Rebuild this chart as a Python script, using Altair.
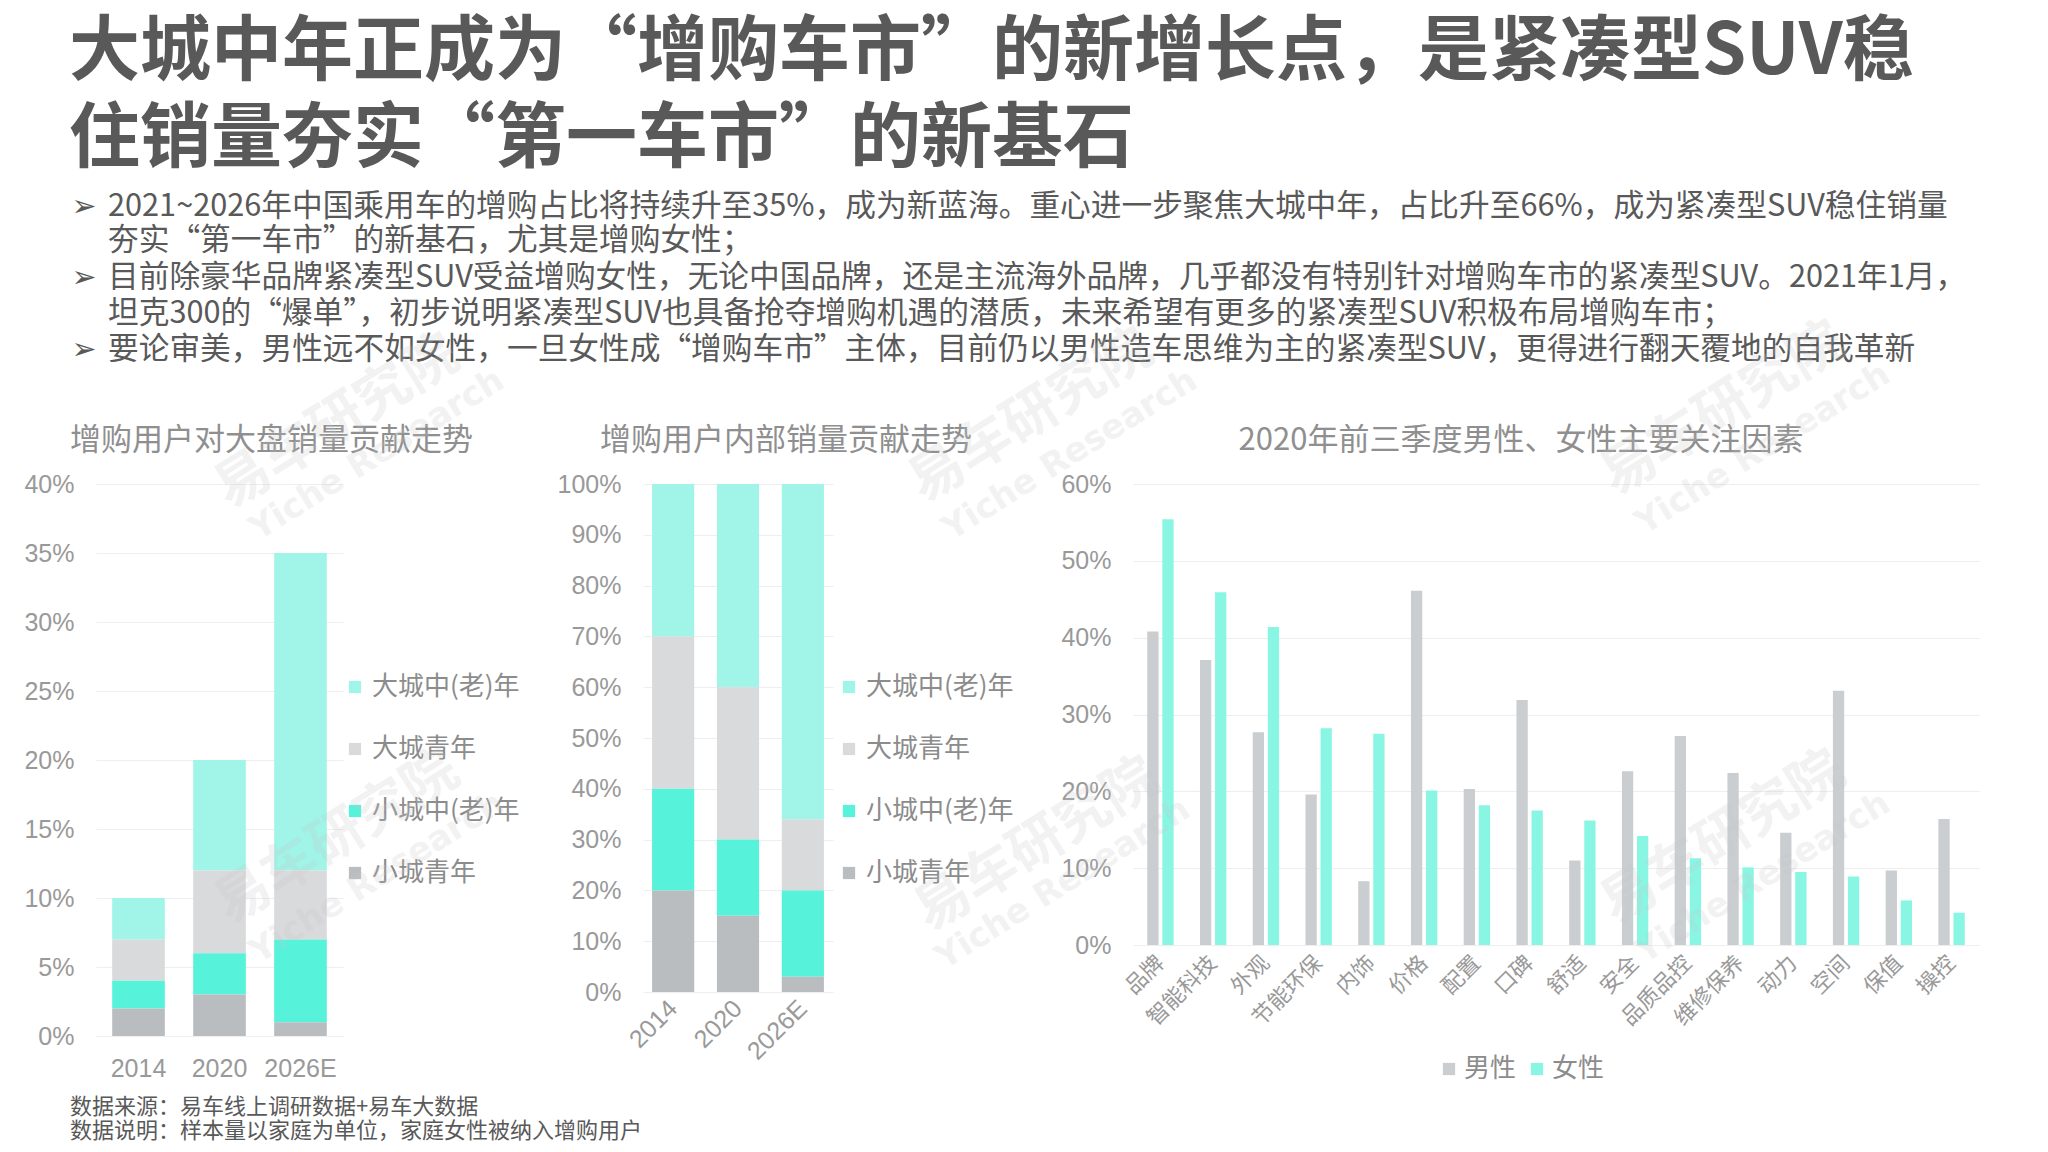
import altair as alt
import pandas as pd

# ---------------- data ----------------
years = ["2014", "2020", "2026E"]
segments = ["大城中(老)年", "大城青年", "小城中(老)年", "小城青年"]
seg_colors = ["#a0f5e8", "#d9dadc", "#56f2da", "#babdc0"]
stack_rank = [4, 3, 2, 1]  # bottom = 小城青年

# share of total market (%), per segment, per year
total_big_mid = [3, 8, 23]
total_big_young = [3, 6, 5]
total_small_mid = [2, 3, 6]
total_small_young = [2, 3, 1]

# share inside add-on buyers (%), per segment, per year
inner_big_mid = [30, 40, 66]
inner_big_young = [30, 30, 14]
inner_small_mid = [20, 15, 17]
inner_small_young = [20, 15, 3]

factors = ["品牌", "智能科技", "外观", "节能环保", "内饰", "价格", "配置", "口碑",
           "舒适", "安全", "品质品控", "维修保养", "动力", "空间", "保值", "操控"]
male = [40.8, 37.1, 27.7, 19.6, 8.3, 46.1, 20.3, 31.9, 11.0, 22.6, 27.2, 22.4, 14.6, 33.1, 9.7, 16.4]
female = [55.4, 45.9, 41.4, 28.2, 27.5, 20.1, 18.2, 17.5, 16.2, 14.2, 11.3, 10.1, 9.5, 8.9, 5.8, 4.2]
genders = ["男性", "女性"]
gender_colors = ["#caced1", "#89f6e3"]

title_lines = ["大城中年正成为“增购车市”的新增长点，是紧凑型SUV稳",
               "住销量夯实“第一车市”的新基石"]
bullet_lines = [
    "2021~2026年中国乘用车的增购占比将持续升至35%，成为新蓝海。重心进一步聚焦大城中年，占比升至66%，成为紧凑型SUV稳住销量",
    "夯实“第一车市”的新基石，尤其是增购女性；",
    "目前除豪华品牌紧凑型SUV受益增购女性，无论中国品牌，还是主流海外品牌，几乎都没有特别针对增购车市的紧凑型SUV。2021年1月，",
    "坦克300的“爆单”，初步说明紧凑型SUV也具备抢夺增购机遇的潜质，未来希望有更多的紧凑型SUV积极布局增购车市；",
    "要论审美，男性远不如女性，一旦女性成“增购车市”主体，目前仍以男性造车思维为主的紧凑型SUV，更得进行翻天覆地的自我革新",
]
bullet_marks = [True, False, True, False, True]
chart_titles = ["增购用户对大盘销量贡献走势", "增购用户内部销量贡献走势", "2020年前三季度男性、女性主要关注因素"]
footer_lines = ["数据来源：易车线上调研数据+易车大数据", "数据说明：样本量以家庭为单位，家庭女性被纳入增购用户"]

CJK = "Noto Sans CJK SC"
NUM = "Liberation Sans"


def stack_df(big_mid, big_young, small_mid, small_young):
    rows = []
    series = [big_mid, big_young, small_mid, small_young]
    for seg, vals, rk in zip(segments, series, stack_rank):
        for yr, v in zip(years, vals):
            rows.append({"year": yr, "segment": seg, "value": v / 100.0, "rank": rk})
    return pd.DataFrame(rows)


df1 = stack_df(total_big_mid, total_big_young, total_small_mid, total_small_young)
df2 = stack_df(inner_big_mid, inner_big_young, inner_small_mid, inner_small_young)
df3 = pd.DataFrame(
    [{"factor": f, "gender": "男性", "value": m / 100.0} for f, m in zip(factors, male)]
    + [{"factor": f, "gender": "女性", "value": w / 100.0} for f, w in zip(factors, female)]
)

one = alt.Data(values=[{}])


def text_layer(txt, x, y, size, color, align="left", weight="normal", font=CJK,
               baseline="middle", angle=0, opacity=1.0):
    kw = dict(text=txt, align=align, baseline=baseline, fontSize=size, color=color,
              fontWeight=weight, font=font, opacity=opacity)
    if angle:
        kw["angle"] = angle
    return alt.Chart(one).mark_text(**kw).encode(x=alt.value(x), y=alt.value(y))


def legend_vertical(lx, ly):
    return alt.Legend(title=None, orient="none", legendX=lx, legendY=ly, direction="vertical",
                      symbolType="square", symbolSize=150, symbolStrokeWidth=0,
                      labelFont=CJK, labelFontSize=26, labelColor="#8c8c8c",
                      labelOffset=4, rowPadding=36, padding=0)


# ---------------- panel 1 ----------------
W1, H1 = 247, 552
R0 = -476
L0 = -88
frame = alt.Chart(one).mark_rect(opacity=0).encode(
    x=alt.value(L0), x2=alt.value(L0 + 2032), y=alt.value(R0), y2=alt.value(R0 + 1136))

bars1 = alt.Chart(df1).mark_bar().encode(
    x=alt.X("year:N", sort=years, scale=alt.Scale(paddingInner=0.35, paddingOuter=0.2),
            axis=alt.Axis(title=None, labelAngle=0, labelFontSize=25, labelFont=NUM,
                          labelPadding=20, grid=False)),
    y=alt.Y("value:Q", stack="zero", scale=alt.Scale(domain=[0, 0.4], nice=False),
            axis=alt.Axis(title=None, format=".0%", values=[0, 0.05, 0.1, 0.15, 0.2, 0.25, 0.3, 0.35, 0.4],
                          labelFontSize=25, labelFont=NUM, labelPadding=22, grid=True)),
    color=alt.Color("segment:N", scale=alt.Scale(domain=segments, range=seg_colors),
                    legend=legend_vertical(246, 190)),
    order=alt.Order("rank:Q", sort="ascending"),
)

layers1 = [frame, bars1]
layers1.append(text_layer(title_lines[0], -27, -431, 71, "#595959", weight="bold"))
layers1.append(text_layer(title_lines[1], -27, -344, 71, "#595959", weight="bold"))
bullet_y = [-277, -243, -206, -170, -134]
for line, ym, has_mark in zip(bullet_lines, bullet_y, bullet_marks):
    layers1.append(text_layer(line, 12, ym, 30.7, "#595959"))
    if has_mark:
        layers1.append(text_layer("➢", -12, ym, 30, "#595959", align="center", font="DejaVu Sans"))
layers1.append(text_layer(chart_titles[0], -26, -43, 31, "#8f8f8f"))
layers1.append(text_layer(footer_lines[0], -26, 635, 22, "#595959", baseline="bottom"))
layers1.append(text_layer(footer_lines[1], -26, 659, 22, "#595959", baseline="bottom"))

p1 = alt.layer(*layers1).properties(width=W1, height=H1)

# ---------------- panel 2 ----------------
W2, H2 = 190, 508
bars2 = alt.Chart(df2).mark_bar().encode(
    x=alt.X("year:N", sort=years, scale=alt.Scale(paddingInner=0.35, paddingOuter=0.14),
            axis=alt.Axis(title=None, labelAngle=-45, labelAlign="right", labelBaseline="middle",
                          labelFontSize=25, labelFont=NUM, labelPadding=12, grid=False)),
    y=alt.Y("value:Q", stack="zero", scale=alt.Scale(domain=[0, 1], nice=False),
            axis=alt.Axis(title=None, format=".0%", values=[i / 10 for i in range(11)],
                          labelFontSize=25, labelFont=NUM, labelPadding=22, grid=True)),
    color=alt.Color("segment:N", scale=alt.Scale(domain=segments, range=seg_colors),
                    legend=legend_vertical(193, 190)),
    order=alt.Order("rank:Q", sort="ascending"),
)
p2 = alt.layer(bars2, text_layer(chart_titles[1], -43, -43, 31, "#8f8f8f")).properties(width=W2, height=H2)

# ---------------- panel 3 ----------------
W3, H3 = 846, 461
bars3 = alt.Chart(df3).mark_bar().encode(
    x=alt.X("factor:N", sort=factors, scale=alt.Scale(paddingInner=0.5, paddingOuter=0.27),
            axis=alt.Axis(title=None, labelAngle=-45, labelAlign="right", labelBaseline="middle",
                          labelFontSize=22, labelFont=CJK, labelPadding=14, grid=False)),
    xOffset=alt.XOffset("gender:N", sort=genders, scale=alt.Scale(paddingInner=0.25)),
    y=alt.Y("value:Q", scale=alt.Scale(domain=[0, 0.6], nice=False),
            axis=alt.Axis(title=None, format=".0%", values=[0, 0.1, 0.2, 0.3, 0.4, 0.5, 0.6],
                          labelFontSize=25, labelFont=NUM, labelPadding=22, grid=True)),
    color=alt.Color("gender:N", scale=alt.Scale(domain=genders, range=gender_colors),
                    legend=alt.Legend(title=None, orient="none", legendX=303, legendY=572,
                                      direction="horizontal", symbolType="square", symbolSize=150,
                                      symbolStrokeWidth=0, labelFont=CJK, labelFontSize=26,
                                      labelColor="#8c8c8c", labelOffset=2, columnPadding=7,
                                      padding=0)),
)

layers3 = [bars3, text_layer(chart_titles[2], 388, -43, 31, "#8f8f8f", align="center")]
wm_big = [(-796, -62), (-102, -68), (590, -75), (-796, 354), (-96, 361), (590, 354)]
wm_small = [(-756, -29), (-63, -29), (630, -35), (-756, 394), (-70, 400), (630, 394)]
for (bx, by), (sx, sy) in zip(wm_big, wm_small):
    layers3.append(text_layer("易车研究院", bx, by, 55, "#c8c8c8", align="center", weight="bold",
                              angle=328, opacity=0.22))
    layers3.append(text_layer("Yiche Research", sx, sy, 34, "#c8c8c8", align="center", weight="bold",
                              font="DejaVu Sans", angle=328, opacity=0.22))
p3 = alt.layer(*layers3).properties(width=W3, height=H3)

chart = (
    alt.hconcat(p1, p2, p3, spacing=300, bounds="flush")
    .resolve_scale(color="independent")
    .properties(padding=0)
    .configure_view(strokeWidth=0)
    .configure_axis(domain=False, ticks=False, labelColor="#999999", gridColor="#eeeeee",
                    gridWidth=1)
)

chart.save("out.html", embed_options={"renderer": "svg", "actions": False})
